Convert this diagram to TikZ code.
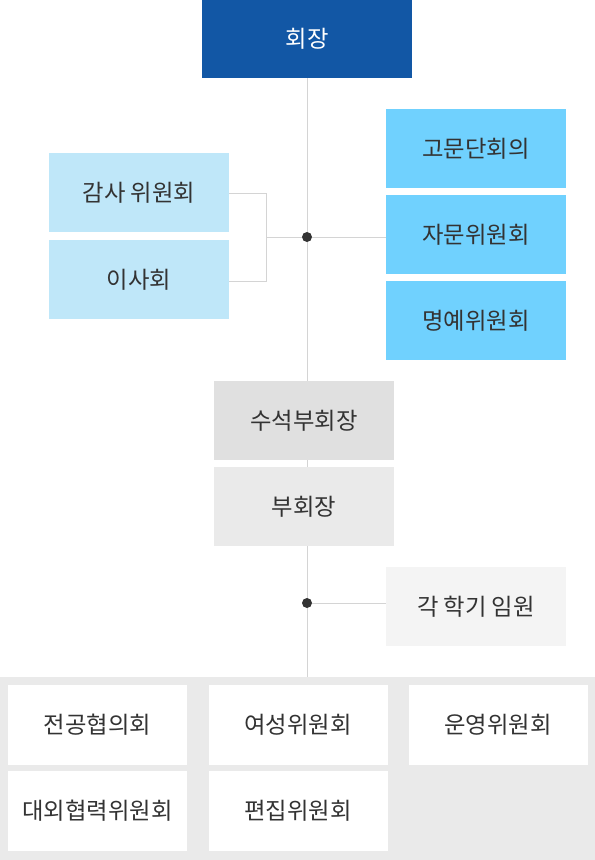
\documentclass[tikz,border=0pt]{standalone}
\usepackage{fontspec}
\setmainfont{Noto Sans CJK KR}
\definecolor{navy}{HTML}{1257A5}
\definecolor{skyA}{HTML}{70D1FE}
\definecolor{skyB}{HTML}{BFE7F9}
\definecolor{grayA}{HTML}{E0E0E0}
\definecolor{grayB}{HTML}{EAEAEA}
\definecolor{grayC}{HTML}{F4F4F4}
\definecolor{panel}{HTML}{EAEAEA}
\definecolor{linec}{HTML}{D4D4D4}
\definecolor{txt}{HTML}{333333}
\definecolor{dotc}{HTML}{333333}
\begin{document}
\begin{tikzpicture}[x=0.75pt,y=-0.75pt,
  box/.style={draw=none,inner sep=0pt,minimum width=135pt,minimum height=59.25pt,text=txt,font=\fontsize{17.5pt}{20pt}\selectfont},
  wbox/.style={box,fill=white,minimum width=134.25pt,minimum height=60pt},
  conn/.style={draw=linec,line width=0.75pt},
  dot/.style={circle,fill=dotc,inner sep=0pt,minimum size=7.5pt}]
\useasboundingbox (0,0) rectangle (595,860);
\fill[panel] (0,677) rectangle (595,860);
% vertical trunk
\coordinate (top) at (307,78);
\coordinate (bot) at (307,677);
\draw[conn] (top) -- (bot);
\node[box,fill=navy,text=white,minimum width=157.5pt,minimum height=58.5pt] (pres) at (307,39) {회장};
\node[box,fill=skyA] (a1) at (476,148.5) {고문단회의};
\node[box,fill=skyA] (a2) at (476,234.5) {자문위원회};
\node[box,fill=skyA] (a3) at (476,320.5) {명예위원회};
\node[box,fill=skyB] (b1) at (139,192.5) {감사 위원회};
\node[box,fill=skyB] (b2) at (139,279.5) {이사회};
\node[dot] (d1) at (307,237) {};
\coordinate (br) at (266,237);
\draw[conn] (b1.east |- 0,193) -| (br);
\draw[conn] (b2.east |- 0,281) -| (br);
\draw[conn] (br) -- (d1) -- (d1 -| a2.west);
\node[box,fill=grayA] (v1) at (304,420.5) {수석부회장};
\node[box,fill=grayB] (v2) at (304,506.5) {부회장};
\node[dot] (d2) at (307,603) {};
\node[box,fill=grayC] (c1) at (476,606.5) {각 학기 임원};
\draw[conn] (d2) -- (d2 -| c1.west);
\node[wbox] (e1) at (97.5,725) {전공협의회};
\node[wbox] (e2) at (298,725) {여성위원회};
\node[wbox] (e3) at (498,725) {운영위원회};
\node[wbox] (e4) at (97.5,811) {대외협력위원회};
\node[wbox] (e5) at (298,811) {편집위원회};
\end{tikzpicture}
\end{document}
